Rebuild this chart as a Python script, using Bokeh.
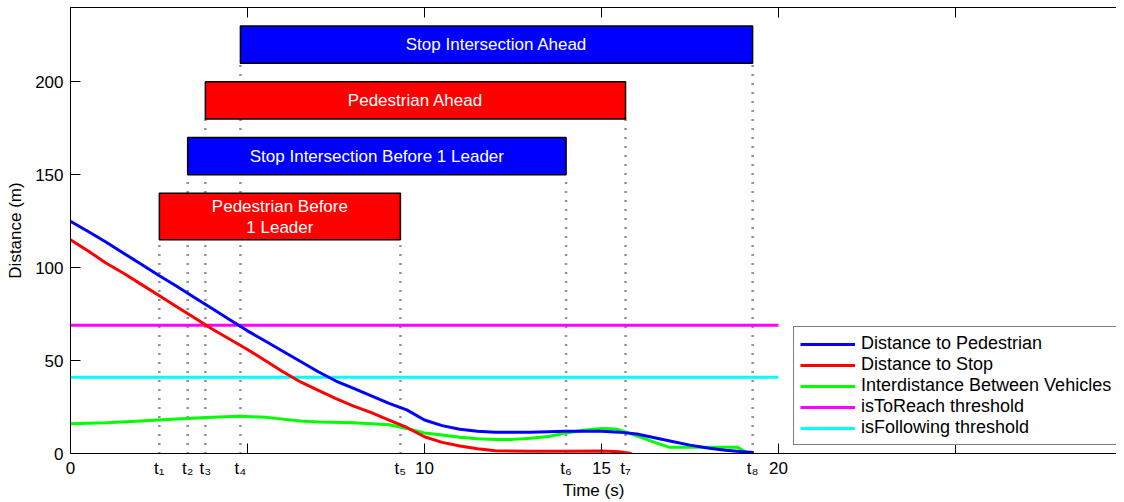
from bokeh.plotting import figure
from bokeh.models import LinearAxis, FixedTicker, Legend, LegendItem, Range1d, ColumnDataSource
from bokeh.core.properties import value
from bokeh.embed import file_html
from bokeh.resources import INLINE

FONT = "Liberation Sans"

# --- Data -----------------------------------------------------------------
ped_t = [0, 0.5, 1, 1.5, 2, 2.5, 3, 3.5, 4, 4.5, 5, 5.5, 6, 6.5, 7, 7.5, 8, 8.5, 9, 9.5,
         10, 10.5, 11, 11.5, 12, 13, 14, 15, 15.5, 16, 16.5, 17, 17.5, 18, 18.5, 19, 19.3]
ped_d = [125, 119.5, 113.8, 107.8, 101.8, 95.8, 90, 84, 78, 72, 66, 60.5, 55, 49.5, 44, 39, 35, 31, 27, 23.5,
         18, 15, 13, 12, 11.5, 11.5, 12, 12, 11.5, 10.5, 8.5, 6.5, 4.5, 3, 1.8, 1, 0.5]

stop_t = [0, 0.5, 1, 1.5, 2, 2.5, 3, 3.5, 4, 4.5, 5, 5.5, 6, 6.5, 7, 7.5, 8, 8.5, 9, 9.5,
          10, 10.5, 11, 11.5, 12, 13, 14, 15, 15.5, 15.85]
stop_d = [115, 109, 102.5, 97, 91, 85, 79, 73, 67, 61.5, 56, 50, 44, 38.5, 34, 29.5, 25.5, 22, 18, 14,
          9, 6, 4, 2.5, 1.5, 1.2, 1.2, 1.3, 1, 0]

gap_t = [0, 1, 2, 3, 4, 4.8, 5.5, 6, 6.5, 7, 8, 8.5, 9, 9.5, 10, 10.5, 11, 11.5, 12, 12.5,
         13, 13.5, 14, 14.5, 15, 15.4, 15.7, 16, 16.5, 16.9, 17.5, 18, 18.5, 18.85, 19.15]
gap_d = [16, 16.5, 17.5, 18.5, 19.5, 20, 19.5, 18.5, 17.5, 17, 16.5, 16, 15.5, 13.5, 11, 10, 8.8, 8, 7.6, 7.6,
         8.2, 9.2, 11, 12.5, 13.4, 13.2, 11.5, 9.5, 6, 3.4, 3.4, 3.4, 3.4, 3.3, 0]

threshold_t = [0, 20]
reach_thr = 69
follow_thr = 41

# state bars
bar_labels = ["Pedestrian Before\n1 Leader", "Stop Intersection Before 1 Leader",
              "Pedestrian Ahead", "Stop Intersection Ahead"]
bar_start = [2.51, 3.31, 3.81, 4.8]
bar_end = [9.32, 14.0, 15.68, 19.27]
bar_bottom = [115, 150, 180, 210]
bar_top = [140, 170, 200, 230]
bar_colors = ["#ff0000", "#0000ff", "#ff0000", "#0000ff"]

# event instants t1..t8 and how high their dotted markers reach
event_t = [2.51, 3.31, 3.81, 4.8, 9.32, 14.0, 15.68, 19.27]
event_top = [115, 150, 180, 210, 115, 150, 180, 210]
event_labels = ["t\u2081", "t\u2082", "t\u2083", "t\u2084", "t\u2085", "t\u2086", "t\u2087", "t\u2088"]

x_ticks = [0, 5, 10, 15, 20, 25]
x_num_ticks = [0, 10, 15, 20]
x_num_labels = ["0", "10", "15", "20"]
y_ticks = [0, 50, 100, 150, 200]

# --- Figure ---------------------------------------------------------------
p = figure(width=1116, height=502, output_backend="svg", toolbar_location=None,
           x_range=Range1d(0, 29.55), y_range=Range1d(0, 240),
           min_border_left=70, min_border_right=0, min_border_top=7, min_border_bottom=0)
p.xgrid.visible = False
p.ygrid.visible = False
p.outline_line_color = None
p.background_fill_color = "white"
p.border_fill_color = "white"

# bottom axis A: ticks only
xa = p.xaxis[0]
xa.ticker = FixedTicker(ticks=x_ticks)
xa.major_label_text_font_size = "0px"
xa.major_label_standoff = 0
xa.major_label_overrides = {t: "" for t in x_ticks}

ya = p.yaxis[0]
ya.ticker = FixedTicker(ticks=y_ticks)
ya.axis_label = "Distance (m)"
for ax in (xa, ya):
    ax.major_tick_in = 10
    ax.major_tick_out = 0
    ax.minor_tick_in = 0
    ax.minor_tick_out = 0
    ax.axis_line_color = "black"
    ax.major_tick_line_color = "black"
ya.major_label_text_font = FONT
ya.major_label_text_font_size = "17px"
ya.major_label_text_color = "black"
ya.axis_label_text_font = FONT
ya.axis_label_text_font_size = "17px"
ya.axis_label_text_font_style = "normal"
ya.axis_label_text_color = "black"
ya.major_label_standoff = 7
ya.axis_label_standoff = 7

# bottom axis B: numeric labels and t_i event labels
lab_ticks = x_num_ticks + event_t
lab_text = x_num_labels + event_labels
xb = LinearAxis(ticker=FixedTicker(ticks=lab_ticks), major_tick_in=0, major_tick_out=0,
                minor_tick_in=0, minor_tick_out=0, axis_line_color=None,
                major_label_standoff=5, axis_label="Time (s)", axis_label_standoff=0,
                major_label_text_font=FONT, major_label_text_font_size="17px",
                major_label_text_color="black", axis_label_text_font=FONT,
                axis_label_text_font_size="17px", axis_label_text_font_style="normal",
                axis_label_text_color="black")
xb.major_label_overrides = {t: l for t, l in zip(lab_ticks, lab_text)}
p.add_layout(xb, "below")

top_axis = LinearAxis(ticker=FixedTicker(ticks=x_ticks), major_tick_in=10, major_tick_out=0,
                      minor_tick_in=0, minor_tick_out=0, major_label_text_font_size="0px",
                      major_label_standoff=0, axis_line_color="black")
top_axis.major_label_overrides = {t: "" for t in x_ticks}
p.add_layout(top_axis, "above")

# dotted event markers
p.segment(x0=event_t, y0=[0] * len(event_t), x1=event_t, y1=event_top,
          line_color="#222222", line_width=2.5, line_dash="1 8")

# state bars
bars = ColumnDataSource(dict(left=bar_start, right=bar_end, bottom=bar_bottom, top=bar_top,
                             color=bar_colors, label=bar_labels,
                             xc=[(a + b) / 2 for a, b in zip(bar_start, bar_end)],
                             yc=[(a + b) / 2 for a, b in zip(bar_bottom, bar_top)]))
p.quad(left="left", right="right", bottom="bottom", top="top", fill_color="color",
       line_color="black", line_width=1.5, source=bars)
p.text(x="xc", y="yc", text="label", source=bars, text_color="white",
       text_font=value(FONT), text_font_size="17px", text_align="center",
       text_baseline="middle", text_line_height=1.1)

# thresholds and series
r_reach = p.line(threshold_t, [reach_thr, reach_thr], line_color="#ff00ff", line_width=3)
r_follow = p.line(threshold_t, [follow_thr, follow_thr], line_color="#00ffff", line_width=3)
r_gap = p.line(gap_t, gap_d, line_color="#00ff00", line_width=3)
r_stop = p.line(stop_t, stop_d, line_color="#ff0000", line_width=3)
r_ped = p.line(ped_t, ped_d, line_color="#0000ff", line_width=3)

legend = Legend(items=[
    LegendItem(label="Distance to Pedestrian", renderers=[r_ped]),
    LegendItem(label="Distance to Stop", renderers=[r_stop]),
    LegendItem(label="Interdistance Between Vehicles", renderers=[r_gap]),
    LegendItem(label="isToReach threshold", renderers=[r_reach]),
    LegendItem(label="isFollowing threshold", renderers=[r_follow]),
], location=(723, 8))
legend.label_text_font = FONT
legend.label_text_font_size = "18px"
legend.label_text_color = "black"
legend.glyph_width = 55
legend.glyph_height = 20
legend.label_height = 20
legend.label_standoff = 6
legend.spacing = 0
legend.padding = 6
legend.margin = 0
legend.border_line_color = "black"
legend.border_line_width = 1
legend.background_fill_alpha = 1
p.add_layout(legend)

open("out.html", "w").write(file_html(p, INLINE))
